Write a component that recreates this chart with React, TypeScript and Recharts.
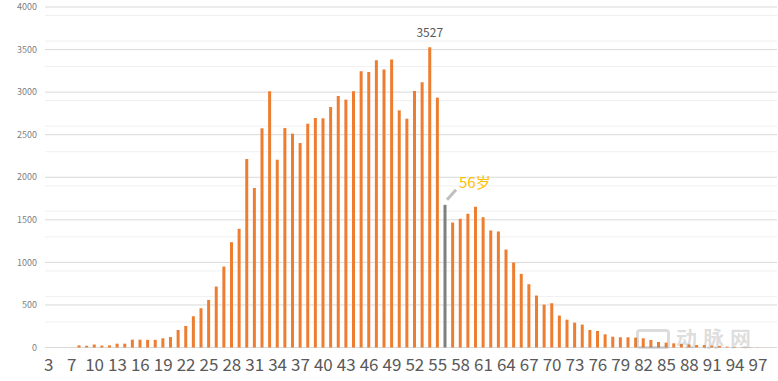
import React from "react";
import { BarChart, Bar, XAxis, YAxis, CartesianGrid, Cell } from "recharts";

const ages = [
  "3", "5", "6", "7", "8", "9", "10", "11", "12", "13", "14", "15", "16", "17", "18", "19", "20",
  "21", "22", "23", "24", "25", "26", "27", "28", "29", "30", "31", "32", "33", "34", "35", "36",
  "37", "38", "39", "40", "41", "42", "43", "44", "45", "46", "47", "48", "49", "50", "51", "52",
  "53", "54", "55", "56", "57", "58", "59", "60", "61", "62", "63", "64", "65", "66", "67", "68",
  "69", "70", "71", "72", "73", "74", "75", "76", "77", "78", "79", "80", "81", "82", "83", "84",
  "85", "86", "87", "88", "89", "90", "91", "92", "93", "94", "95", "96", "97", "98", "99",
];

const counts = [
  0, 0, 0, 0, 25, 20, 35, 22, 25, 45, 45, 92, 92, 90, 90, 108, 123,
  206, 253, 367, 461, 559, 716, 951, 1237, 1394, 2214, 1873, 2575, 3010, 2206, 2578, 2512,
  2402, 2629, 2696, 2692, 2825, 2955, 2912, 3010, 3245, 3237, 3375, 3265, 3382, 2786, 2688, 3014,
  3116, 3527, 2935, 1676, 1468, 1512, 1571, 1653, 1531, 1375, 1363, 1151, 998, 865, 743, 610,
  504, 520, 375, 327, 292, 269, 206, 194, 155, 127, 120, 120, 116, 108, 88, 65,
  57, 49, 41, 37, 29, 29, 22, 18, 10, 8, 5, 3, 2, 1, 0,
];

const highlightAge = "56";
const peakLabel = "3527";
const highlightText = "56岁";

const majorTicks = [0, 500, 1000, 1500, 2000, 2500, 3000, 3500, 4000];
const minorTicks = [
  100, 200, 300, 400, 600, 700, 800, 900, 1100, 1200, 1300, 1400, 1600, 1700, 1800, 1900,
  2100, 2200, 2300, 2400, 2600, 2700, 2800, 2900, 3100, 3200, 3300, 3400, 3600, 3700, 3800, 3900,
];

const data = ages.map((a, i) => ({ age: a, value: counts[i] }));
const peakValue = Math.max(...counts);
const highlightIndex = ages.indexOf(highlightAge);
const highlightValue = counts[highlightIndex];

const FONT = "'Noto Sans CJK SC', 'Noto Sans', sans-serif";

const renderLabel = (props: any) => {
  const { x, y, width, value } = props;
  const cx = x + width / 2;
  if (value === peakValue) {
    return (
      <text x={cx} y={y - 10} textAnchor="middle" fontSize={12} fill="#595959" fontFamily={FONT}>
        {peakLabel}
      </text>
    );
  }
  if (value === highlightValue) {
    return (
      <g>
        <line x1={cx + 2} y1={y - 5} x2={cx + 11} y2={y - 15} stroke="#BFBFBF" strokeWidth={3} />
        <text x={cx + 14} y={y - 17} fontSize={15} fill="#FFC000" fontFamily={FONT}>
          {highlightText}
        </text>
      </g>
    );
  }
  return null;
};

export default function App() {
  return (
    <div style={{ position: "absolute", left: 0, top: 0, width: 778, height: 381, background: "#fff" }}>
      <BarChart
        width={778}
        height={381}
        data={data}
        margin={{ top: 7, right: 1, bottom: 0, left: 0 }}
        barSize={3}
      >
        <CartesianGrid vertical={false} horizontalValues={minorTicks} stroke="#F0F0F0" />
        <CartesianGrid vertical={false} horizontalValues={majorTicks} stroke="#D9D9D9" />
        <XAxis
          dataKey="age"
          interval={2}
          tickLine={false}
          axisLine={false}
          tickMargin={5}
          height={33.5}
          tick={{ fontSize: 17, fill: "#595959", fontFamily: FONT }}
        />
        <YAxis
          domain={[0, 4000]}
          ticks={majorTicks}
          width={45}
          tickLine={false}
          axisLine={false}
          tick={{ fontSize: 9, fill: "#7F7F7F", fontFamily: FONT }}
        />
        <Bar dataKey="value" isAnimationActive={false} label={renderLabel}>
          {data.map((d, i) => (
            <Cell key={i} fill={i === highlightIndex ? "#7F7F7F" : "#ED7D31"} />
          ))}
        </Bar>
      </BarChart>
      <div
        style={{
          position: "absolute",
          left: 636,
          top: 329,
          width: 34,
          height: 20,
          border: "3px solid rgba(140,140,140,0.3)",
          borderRadius: 4,
          boxSizing: "border-box",
          pointerEvents: "none",
        }}
      />
      <div
        style={{
          position: "absolute",
          left: 676,
          top: 327,
          fontSize: 21,
          fontWeight: 700,
          color: "rgba(140,140,140,0.3)",
          fontFamily: FONT,
          lineHeight: "21px",
          height: 21,
          pointerEvents: "none",
          letterSpacing: 6,
        }}
      >
        动脉网
      </div>
    </div>
  );
}
